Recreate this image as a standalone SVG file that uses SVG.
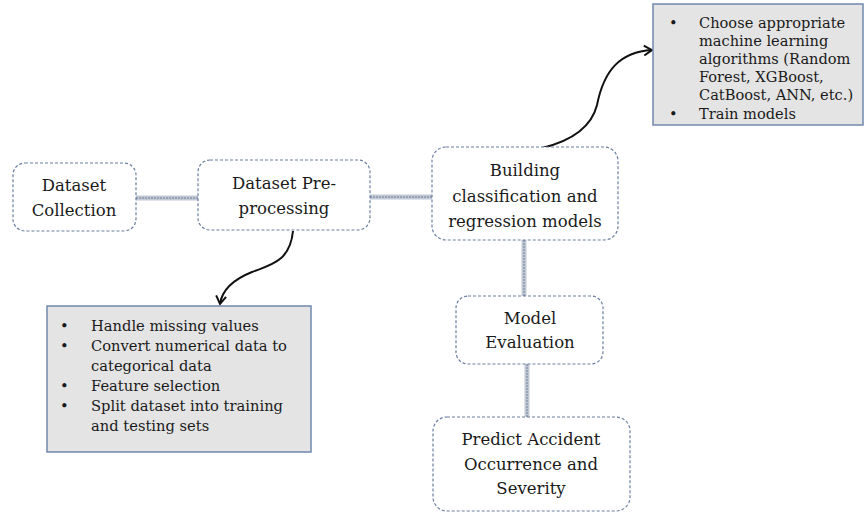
<svg xmlns="http://www.w3.org/2000/svg" width="865" height="514" viewBox="0 0 865 514">
<defs>
<style>
.node{fill:#fff;stroke:#6a7f9f;stroke-width:1.2;stroke-dasharray:3 2}
.t{font-family:"DejaVu Serif","Liberation Serif",serif;font-size:16.5px;fill:#1a1a1a;text-anchor:middle}
.b{font-family:"DejaVu Serif","Liberation Serif",serif;font-size:14.6px;fill:#1a1a1a}
.b2{font-family:"DejaVu Serif","Liberation Serif",serif;font-size:14.7px;fill:#1a1a1a}
.box{fill:#e4e4e4;stroke:#7088ad;stroke-width:1.5}
.conA{stroke:#c2c8d4;stroke-width:5;fill:none}
.conB{stroke:#8a96aa;stroke-width:1.5;stroke-dasharray:2 1;fill:none}
.curve{stroke:#111;stroke-width:2;fill:none}
</style>
<marker id="arr" markerWidth="12" markerHeight="12" refX="9" refY="6" orient="auto" markerUnits="userSpaceOnUse">
<path d="M1,1 L9,6 L1,11" fill="none" stroke="#111" stroke-width="2"/>
</marker>
</defs>
<rect width="865" height="514" fill="#fff"/>
<g id="connectors">
<line class="conA" x1="136" y1="198" x2="198" y2="198"/>
<line class="conB" x1="136" y1="198" x2="198" y2="198"/>
<line class="conA" x1="370" y1="197" x2="432" y2="197"/>
<line class="conB" x1="370" y1="197" x2="432" y2="197"/>
<line class="conA" x1="524" y1="240" x2="524" y2="296"/>
<line class="conB" x1="524" y1="240" x2="524" y2="296"/>
<line class="conA" x1="527" y1="364" x2="527" y2="417"/>
<line class="conB" x1="527" y1="364" x2="527" y2="417"/>
<path class="curve" d="M293,231 C290,262 270,265 252,272 C232,280 222,290 220,304" marker-end="url(#arr)"/>
<path class="curve" d="M542,148 C575,140 592,125 597,105 C604,70 620,52 652,50" marker-end="url(#arr)"/>
</g>
<g id="dataset-collection">
<rect class="node" x="13" y="163" width="123" height="68" rx="12"/>
<text class="t" x="74" y="191">Dataset</text>
<text class="t" x="74" y="216">Collection</text>
</g>
<g id="dataset-preprocessing">
<rect class="node" x="198" y="160" width="172" height="70" rx="12"/>
<text class="t" x="284" y="189">Dataset Pre-</text>
<text class="t" x="284" y="214">processing</text>
</g>
<g id="building-models">
<rect class="node" x="432" y="147" width="186" height="93" rx="14"/>
<text class="t" x="525" y="176">Building</text>
<text class="t" x="525" y="202">classification and</text>
<text class="t" x="525" y="227">regression models</text>
</g>
<g id="model-evaluation">
<rect class="node" x="456" y="296" width="147" height="68" rx="12"/>
<text class="t" x="530" y="324">Model</text>
<text class="t" x="530" y="348">Evaluation</text>
</g>
<g id="predict">
<rect class="node" x="433" y="417" width="197" height="94" rx="14"/>
<text class="t" x="531" y="445">Predict Accident</text>
<text class="t" x="531" y="470">Occurrence and</text>
<text class="t" x="531" y="494">Severity</text>
</g>
<g id="algorithms-box">
<rect class="box" x="653" y="4" width="210" height="121"/>
<text class="b" x="669" y="28">•</text>
<text class="b" x="699" y="28">Choose appropriate</text>
<text class="b" x="699" y="46">machine learning</text>
<text class="b" x="699" y="64">algorithms (Random</text>
<text class="b" x="699" y="82">Forest, XGBoost,</text>
<text class="b" x="699" y="100">CatBoost, ANN, etc.)</text>
<text class="b" x="669" y="119">•</text>
<text class="b" x="699" y="119">Train models</text>
</g>
<g id="preprocessing-box">
<rect class="box" x="47" y="306" width="264" height="146"/>
<text class="b2" x="60" y="331">•</text>
<text class="b2" x="91" y="331">Handle missing values</text>
<text class="b2" x="60" y="351">•</text>
<text class="b2" x="91" y="351">Convert numerical data to</text>
<text class="b2" x="91" y="371">categorical data</text>
<text class="b2" x="60" y="391">•</text>
<text class="b2" x="91" y="391">Feature selection</text>
<text class="b2" x="60" y="411">•</text>
<text class="b2" x="91" y="411">Split dataset into training</text>
<text class="b2" x="91" y="431">and testing sets</text>
</g>
</svg>
